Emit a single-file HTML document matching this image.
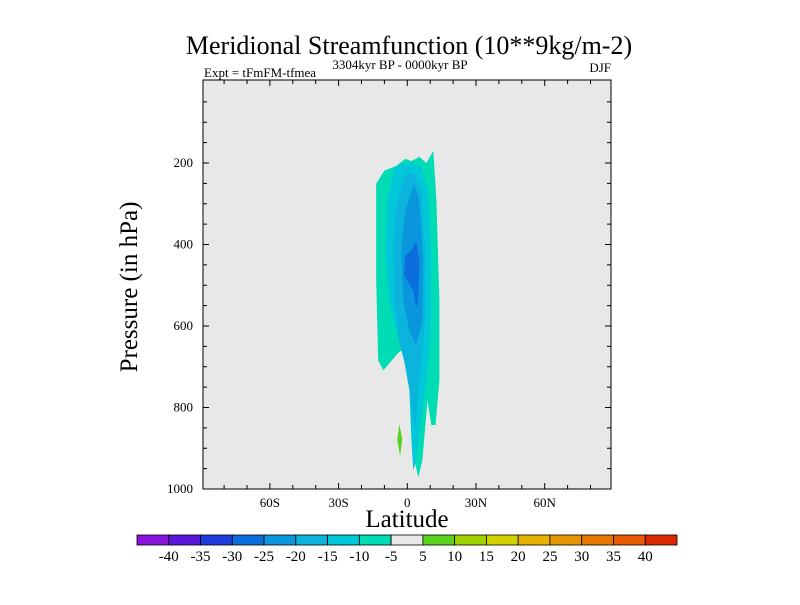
<!DOCTYPE html>
<html><head><meta charset="utf-8"><style>
body{margin:0;background:#fff;width:800px;height:600px;overflow:hidden}
svg text{font-family:"Liberation Serif",serif;fill:#000}
</style></head><body>
<svg id="chart" width="800" height="600"></svg>
<script>
const latTicks=[-60,-30,0,30,60];
const latLabels=["60S","30S","0","30N","60N"];
const presTicks=[200,400,600,800,1000];
const cbLevels=[-40,-35,-30,-25,-20,-15,-10,-5,5,10,15,20,25,30,35,40];
const cbColors=["#8a14dc","#5a14dc","#1e3cdc","#0a6edc","#0a96dc","#0ab4dc","#00c8d8","#00dcb4","#e8e8e8","#5ad21e","#a0d200","#d2d200","#e6b400","#e69600","#e67800","#e65a00","#dc2800"];
const lvlM5=[[-13.6,251],[-10.1,219],[-4.8,207],[-0.9,190],[1.8,195],[5.3,185],[8.3,200],[11.4,170],[12.7,293],[14.0,537],[14.0,733],[12.3,843],[10.5,843],[8.8,782],[6.6,929],[4.8,971],[3.1,929],[1.8,733],[0,709],[-2.6,660],[-4.3,668],[-10.5,709],[-12.7,684],[-13.6,489]];
const lvlM10=[[-5.7,214],[-2.6,202],[1.8,200],[6.1,209],[9.2,268],[10.5,439],[10.1,635],[7.9,758],[6.1,831],[3.9,929],[2.6,954],[1.8,880],[0.9,758],[-1.8,672],[-4.8,611],[-7.9,537],[-9.6,415],[-8.8,293]];
const lvlM15=[[-0.9,231],[2.6,224],[6.1,268],[7.9,439],[7.4,611],[5.3,734],[3.5,856],[1.8,783],[-0.4,709],[-3.5,636],[-5.7,537],[-6.1,391],[-4.4,293]];
const lvlM20=[[3.1,251],[5.3,293],[7.0,439],[6.6,586],[3.9,648],[0.9,611],[-1.8,537],[-2.6,415],[-0.9,317]];
const lvlM25=[[3.9,391],[5.3,439],[4.8,537],[3.9,555],[2.6,513],[-1.3,476],[-0.9,427],[1.8,415]];
const lvlP5=[[-3.5,841],[-2.2,875],[-3.1,919],[-4.4,880]];

const NS="http://www.w3.org/2000/svg";
const svg=document.getElementById('chart');
const X0=203,X1=611,Y0=80,Y1=489;
const xs=lat=>407.3+lat*2.29;
const ys=p=>81.5+p*0.4075;
function mk(tag,attrs,parent){const e=document.createElementNS(NS,tag);for(const k in attrs)e.setAttribute(k,attrs[k]);(parent||svg).appendChild(e);return e;}
function txt(s,x,y,size,anchor,name){const t=mk('text',{x:x,y:y,'font-size':size,'text-anchor':anchor||'middle'});t.textContent=s;


return t;}

const bg=mk('rect',{x:X0,y:Y0,width:X1-X0,height:Y1-Y0,fill:'#e8e8e8'});



const polys=[[lvlM5,cbColors[7],'contour-minus5'],[lvlM10,cbColors[6],'contour-minus10'],[lvlM15,cbColors[5],'contour-minus15'],[lvlM20,cbColors[4],'contour-minus20'],[lvlM25,cbColors[3],'contour-minus25'],[lvlP5,cbColors[9],'contour-plus5']];
polys.forEach(([pts,col,name])=>{
  const p=mk('polygon',{points:pts.map(q=>xs(q[0]).toFixed(1)+','+ys(q[1]).toFixed(1)).join(' '),fill:col});
  
  
});

const frame=mk('rect',{x:X0,y:Y0,width:X1-X0,height:Y1-Y0,fill:'none',stroke:'#000','stroke-width':1});



for(let p=50;p<=1000;p+=50){
  const major=p%200===0, L=major?6:4, y=ys(p);
  mk('line',{x1:X0,x2:X0+L,y1:y,y2:y,stroke:'#000'});
  mk('line',{x1:X1,x2:X1-L,y1:y,y2:y,stroke:'#000'});
}
presTicks.forEach(p=>txt(String(p),X0-10,ys(p)+4,13,'end','y-tick-label'));
for(let l=-80;l<=80;l+=10){
  const major=l%30===0, L=major?6:4, x=xs(l);
  mk('line',{x1:x,x2:x,y1:Y1,y2:Y1-L,stroke:'#000'});
  mk('line',{x1:x,x2:x,y1:Y0,y2:Y0+L,stroke:'#000'});
}
latTicks.forEach((l,i)=>txt(latLabels[i],xs(l),507,13,'middle','x-tick-label'));

txt('Meridional Streamfunction (10**9kg/m-2)',409,54,26,'middle','chart-title');
txt('Expt = tFmFM-tfmea',204,77,13,'start','experiment-label');
txt('3304kyr BP - 0000kyr BP',400,69,13,'middle','time-range-label');
txt('DJF',611,72,13,'end','season-label');
txt('Latitude',407,527,25,'middle','x-axis-title');
const yt=txt('Pressure (in hPa)',0,0,25,'middle','y-axis-title');
yt.setAttribute('transform','translate(137,287) rotate(-90)');

const cbX=137,cbW=540/17,cbY=535,cbH=10;
cbColors.forEach((c,i)=>{
  const r=mk('rect',{x:cbX+i*cbW,y:cbY,width:cbW,height:cbH,fill:c,stroke:'#000','stroke-width':0.8});
  
  
});
cbLevels.forEach((v,i)=>txt(String(v),cbX+(i+1)*cbW,561,15,'middle','colorbar-label'));
</script>
</body></html>
